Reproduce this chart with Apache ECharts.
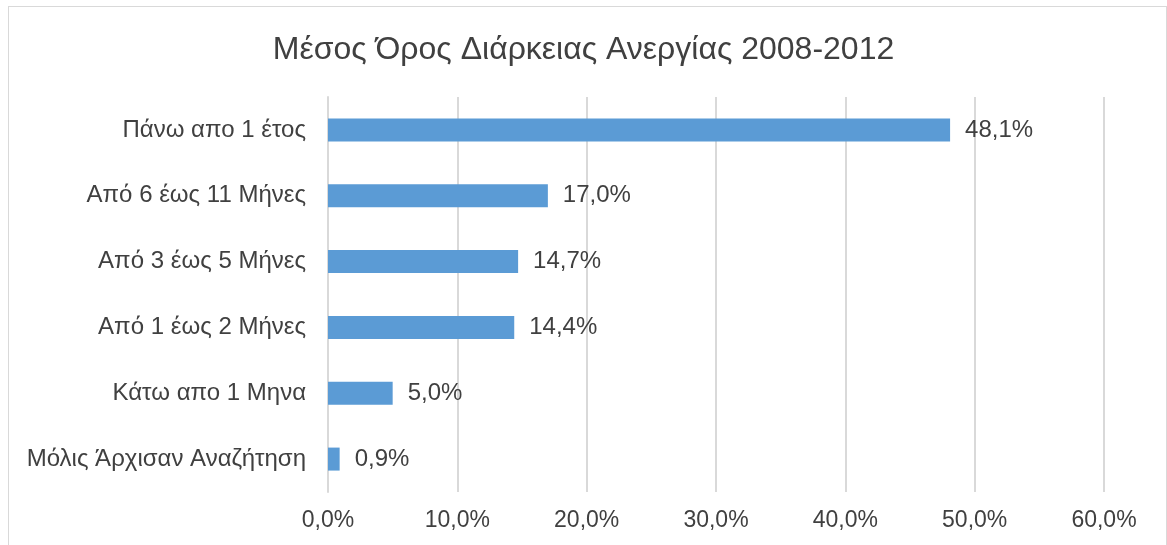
<!DOCTYPE html>
<html>
<head>
<meta charset="utf-8">
<script src="https://cdn.jsdelivr.net/npm/echarts@6/dist/echarts.min.js"></script>
<style>
  html, body { margin: 0; padding: 0; background: #fff; overflow: hidden; }
  #chart { width: 1167px; height: 545px; }
  #frame {
    position: absolute; left: 8px; top: 6px; width: 1157px; height: 600px;
    border: 1px solid #d9d9d9; pointer-events: none;
  }
</style>
</head>
<body>
<div id="chart"></div>
<div id="frame"></div>
<script>
// κατηγορίες (από κάτω προς τα πάνω, όπως τις βάζει ο άξονας)
const categories = [
  'Μόλις Άρχισαν Αναζήτηση',
  'Κάτω απο 1 Μηνα',
  'Από 1 έως 2 Μήνες',
  'Από 3 έως 5 Μήνες',
  'Από 6 έως 11 Μήνες',
  'Πάνω απο 1 έτος'
]
const values = [0.9, 5.0, 14.4, 14.7, 17.0, 48.1]
const axisMax = 60
const axisStep = 10

const font = 'Liberation Sans, Arial, sans-serif'
const fmt = v => v.toFixed(1).replace('.', ',') + '%'

const chart = echarts.init(document.getElementById('chart'))
chart.setOption({
  animation: false,
  title: {
    text: 'Μέσος Όρος Διάρκειας Ανεργίας 2008-2012',
    left: 'center',
    top: 29,
    textStyle: { fontFamily: font, fontSize: 32, fontWeight: 'normal', color: '#404040' }
  },
  grid: { left: 328, right: 63, top: 97, bottom: 53, containLabel: false },
  xAxis: {
    type: 'value',
    min: 0,
    max: axisMax,
    interval: axisStep,
    axisLine: { show: false },
    axisTick: { show: false },
    splitLine: { lineStyle: { color: '#d9d9d9', width: 2 } },
    axisLabel: {
      fontFamily: font, fontSize: 23, color: '#404040', margin: 17,
      formatter: v => fmt(v)
    }
  },
  yAxis: {
    type: 'category',
    data: categories,
    axisLine: { show: true, lineStyle: { color: '#d9d9d9', width: 2 } },
    axisTick: { show: false },
    axisLabel: { fontFamily: font, fontSize: 24, color: '#404040', margin: 22 }
  },
  series: [{
    type: 'bar',
    data: values,
    barWidth: 23,
    itemStyle: { color: '#5b9bd5' },
    label: {
      show: true,
      position: 'right',
      distance: 15,
      fontFamily: font,
      fontSize: 24,
      color: '#404040',
      formatter: p => fmt(p.value)
    }
  }]
})
</script>
</body>
</html>
